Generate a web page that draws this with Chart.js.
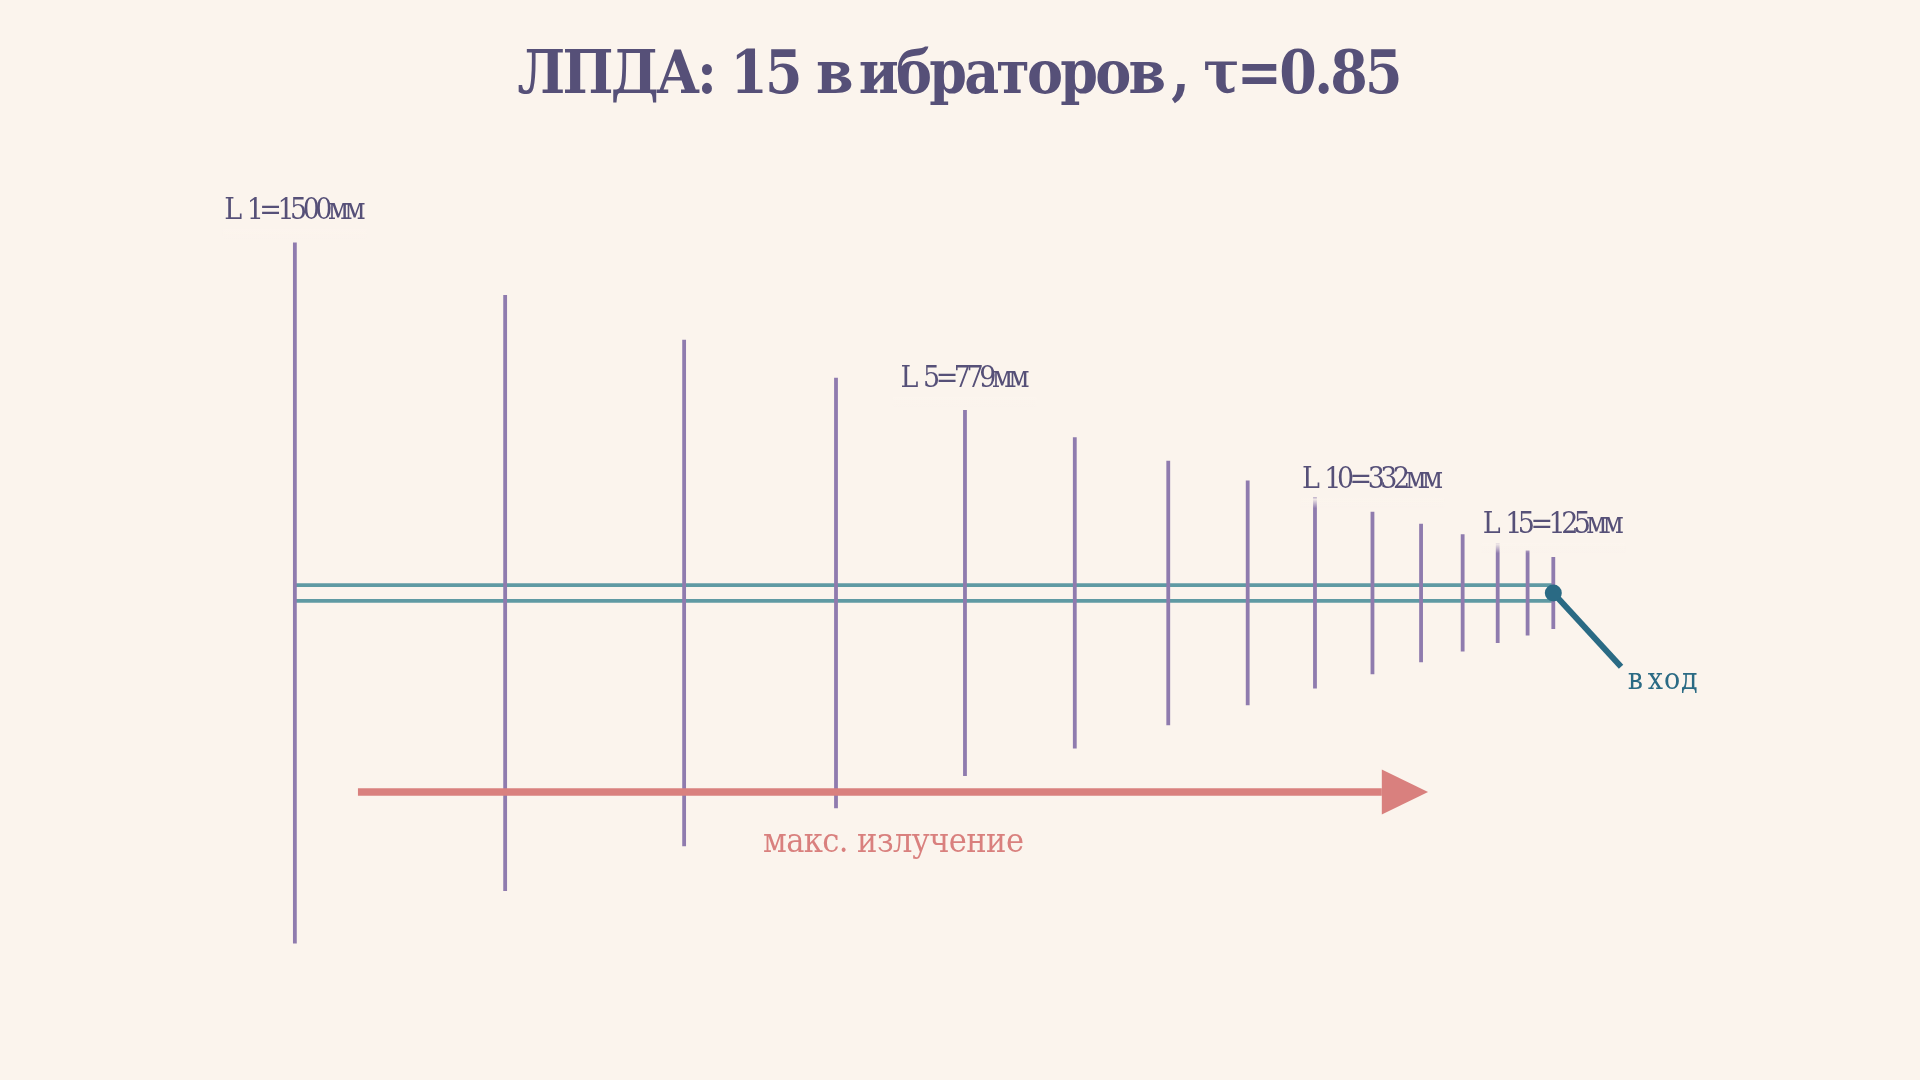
<!DOCTYPE html>
<html>
<head>
<meta charset="utf-8">
<title>ЛПДА</title>
<script src="https://cdn.jsdelivr.net/npm/chart.js@4/dist/chart.umd.min.js"></script>
<style>
  html, body { margin: 0; padding: 0; background: #fbf4ed; }
  canvas { display: block; }
</style>
</head>
<body>
<canvas id="lpda" width="1920" height="1080"></canvas>
<script>
// all lengths in mm, x measured from the longest element, y from the boom axis
const elementX = [0, 450, 833, 1158, 1434, 1669, 1869, 2039, 2183, 2306, 2410, 2499, 2574, 2638, 2693];
const elementLen = [1500, 1275, 1084, 921, 783, 666, 566, 481, 409, 348, 296, 251, 214, 182, 154];
const boomY = [17, -17];
const feedX = [2693, 2838];
const feedY = [0, -158];
const arrowX = [135, 2326];
const arrowY = [-426, -426];
const headX = [2326, 2425, 2326, 2326];
const headY = [-378, -426, -474, -378];

// labels: text, element it belongs to, height above the tip, drawn width
const labelText = ['L1=1500мм', 'L5=779мм', 'L10=332мм', 'L15=125мм'];
const labelElement = [0, 4, 9, 14];
const labelLift = [51, 49, 50, 51];
const labelWidth = [141, 129, 141, 141];
const titleText = 'ЛПДА: 15 вибраторов, τ=0.85';

const purple = '#8f7bae';
const teal = '#5f9aa3';
const feedBlue = '#2a6a84';
const coral = '#d9807e';
const ink = '#565078';
const paper = '#fbf4ed';
const serif = "'DejaVu Serif'";

const datasets = [];
const line = (xs, ys, color, width, extra) => datasets.push(Object.assign({
  data: xs.map((x, i) => ({ x, y: ys[i] })),
  borderColor: color,
  borderWidth: width,
  pointRadius: 0,
  borderCapStyle: 'butt',
  tension: 0
}, extra));

// chart.js paints the first dataset last, so top layer goes first
line([feedX[0]], [feedY[0]], feedBlue, 0, { pointRadius: 8.5, pointBackgroundColor: feedBlue });
line(feedX, feedY, feedBlue, 6);
line(headX, headY, coral, 0, { fill: 'shape', backgroundColor: coral });
line(arrowX, arrowY, coral, 7.5);
elementX.forEach((x, i) => line([x, x], [elementLen[i] / 2, -elementLen[i] / 2], purple, 3.8));
boomY.forEach(y => line([0, 2693], [y, y], teal, 3.8));

// the labels have loose gaps after some letters and tight digits, so set them glyph by glyph
const spaced = (ctx, text, cx, base, color, target, gap) => {
  const chars = [...text];
  const extra = ch => (ch === 'L' || ch === 'в' ? gap : 0);
  const natural = chars.map(ch => ctx.measureText(ch).width + extra(ch));
  const step = (target - natural.reduce((a, b) => a + b, 0)) / (chars.length - 1);
  let pen = cx - target / 2;
  ctx.fillStyle = color;
  chars.forEach((ch, i) => {
    ctx.fillText(ch, pen, base);
    pen += natural[i] + step;
  });
};

const textLabels = {
  id: 'textLabels',
  afterDatasetsDraw(chart) {
    const { ctx, scales: { x, y } } = chart;
    ctx.save();
    ctx.textAlign = 'left';
    ctx.textBaseline = 'alphabetic';

    ctx.font = `bold condensed 60px ${serif}`;
    spaced(ctx, titleText, chart.width / 2, 93, ink, 885, 8);

    ctx.font = `condensed 30px ${serif}`;
    labelText.forEach((t, i) => {
      const k = labelElement[i];
      const cx = x.getPixelForValue(elementX[k]);
      const base = y.getPixelForValue(elementLen[k] / 2 + labelLift[i]);
      // soft lower edge of the label box, it veils tips of the shorter neighbours
      const fade = ctx.createLinearGradient(0, base + 10, 0, base + 20);
      fade.addColorStop(0, paper);
      fade.addColorStop(1, 'rgba(251,244,237,0)');
      ctx.fillStyle = fade;
      ctx.fillRect(cx - 72, base + 10, 144, 10);
      spaced(ctx, t, cx, base, ink, labelWidth[i], 9);
    });

    spaced(ctx, 'вход', x.getPixelForValue(2927), y.getPixelForValue(-206), feedBlue, 70, 4);
    ctx.font = `condensed 34px ${serif}`;
    spaced(ctx, 'макс. излучение', x.getPixelForValue(1281), y.getPixelForValue(-555), coral, 261, 0);
    ctx.restore();
  }
};

new Chart(document.getElementById('lpda'), {
  type: 'line',
  data: { datasets },
  plugins: [textLabels],
  options: {
    responsive: false,
    animation: false,
    devicePixelRatio: 1,
    layout: { padding: 0, autoPadding: false },
    plugins: {
      legend: { display: false },
      tooltip: { enabled: false }
    },
    scales: {
      x: { type: 'linear', display: false, min: -631, max: 3477.7 },
      y: { type: 'linear', display: false, min: -1042.2, max: 1268.9 }
    }
  }
});
</script>
</body>
</html>
